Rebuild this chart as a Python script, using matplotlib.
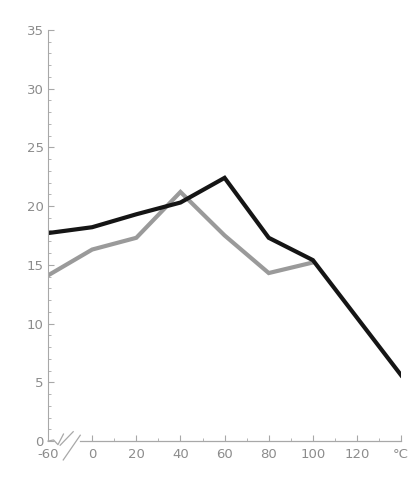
import matplotlib
matplotlib.use("Agg")
import matplotlib.pyplot as plt
import numpy as np

# temperature in degC; -60 sits left of an axis break
temps = [-60, 0, 20, 40, 60, 80, 100, 140]
dark_vals = [17.7, 18.2, 19.3, 20.3, 22.4, 17.3, 15.4, 5.6]
gray_temps = [-60, 0, 20, 40, 60, 80, 100]
gray_vals = [14.1, 16.3, 17.3, 21.2, 17.5, 14.3, 15.2]

x_ticks = [-60, 0, 20, 40, 60, 80, 100, 120, 140]
x_labels = ["-60", "0", "20", "40", "60", "80", "100", "120", "°C"]
y_ticks = [0, 5, 10, 15, 20, 25, 30, 35]

AX_COL = "#a8a8a8"


def to_pos(t):
    # squeeze -60 next to 0 (broken axis)
    t = np.asarray(t, dtype=float)
    return np.where(t < 0, -20.0, t)


fig = plt.figure(figsize=(4.14, 4.8), dpi=100)
ax = fig.add_axes([0.116, 0.081, 0.853, 0.857])

ax.plot(to_pos(gray_temps), gray_vals, color="#9a9a9a", lw=3.0, solid_joinstyle="miter")
ax.plot(to_pos(temps), dark_vals, color="#151515", lw=3.0, solid_joinstyle="miter")

ax.set_xlim(-20, 140)
ax.set_ylim(0, 35)

ax.set_xticks(to_pos(x_ticks))
ax.set_xticklabels(x_labels)
ax.set_yticks(y_ticks)
ax.set_yticks(np.arange(0, 35, 1), minor=True)
ax.set_xticks(np.arange(0, 141, 10), minor=True)

for s in ["top", "right", "bottom"]:
    ax.spines[s].set_visible(False)
ax.spines["left"].set_color(AX_COL)
ax.spines["left"].set_linewidth(0.8)

ax.tick_params(axis="both", which="major", direction="in", length=4, color=AX_COL,
               labelcolor="#8c8c8c", labelsize=9.5, width=0.8)
ax.tick_params(axis="both", which="minor", direction="in", length=2, color=AX_COL, width=0.6)
ax.tick_params(axis="y", pad=3)
ax.tick_params(axis="x", pad=5)
ax.xaxis.get_major_ticks()[0].tick1line.set_visible(False)

# broken bottom axis drawn by hand
ax.plot([-20, -17.5, -15.5, -13], [0, 0.1, -0.3, 0.6], color=AX_COL, lw=0.9, clip_on=False)
ax.plot([-14.5, -8.6], [-0.35, 0.8], color=AX_COL, lw=0.9, clip_on=False)
ax.plot([-13.1, -5.4], [-1.6, 0.5], color=AX_COL, lw=0.9, clip_on=False)
ax.plot([-5.4, 140], [0, 0], color=AX_COL, lw=0.9, clip_on=False)

fig.savefig("out.png", dpi=100, facecolor="white")
